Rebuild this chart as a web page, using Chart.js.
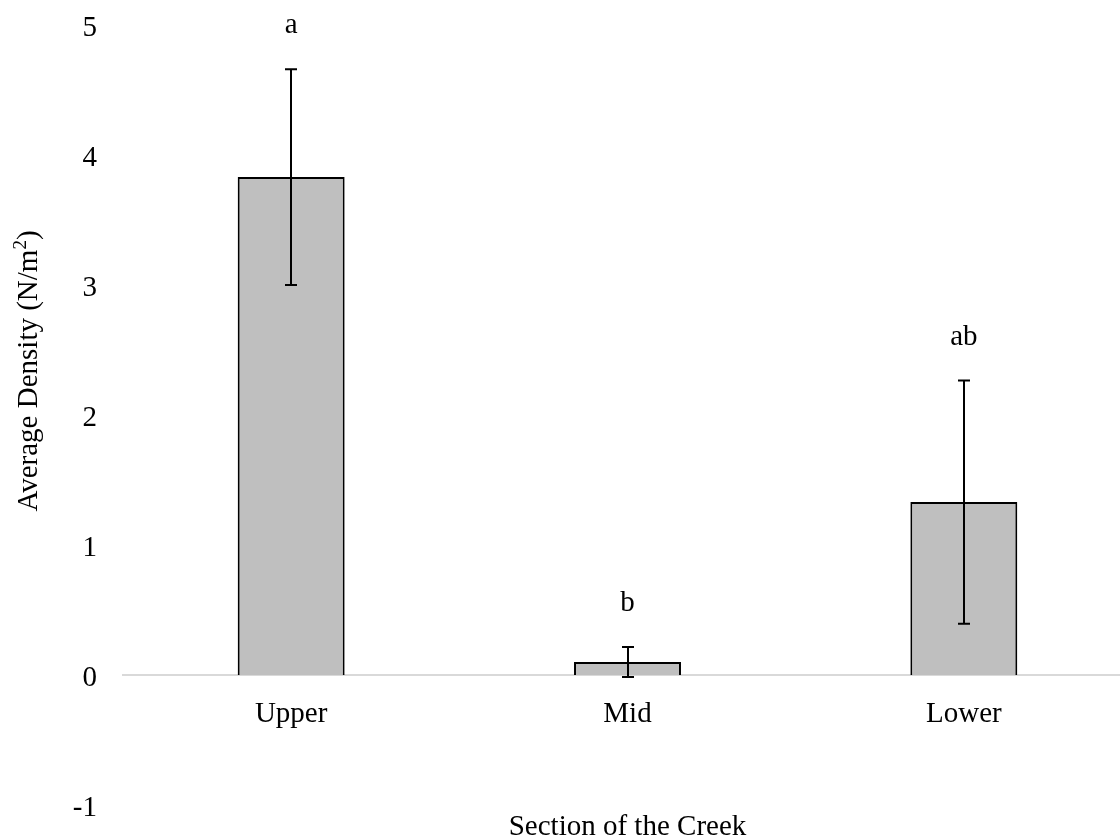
<!DOCTYPE html>
<html>
<head>
<meta charset="utf-8">
<script src="https://cdn.jsdelivr.net/npm/chart.js@4.4.1/dist/chart.umd.min.js"></script>
<style>
  html, body { margin: 0; padding: 0; background: #fff; overflow: hidden; }
  #wrap { position: relative; width: 1132px; height: 840px; }
</style>
</head>
<body>
<div id="wrap"><canvas id="c"></canvas></div>
<script>
const categories = ['Upper', 'Mid', 'Lower'];
const meanDensity = [3.83, 0.10, 1.33];
const errorValues = [0.83, 0.115, 0.935];
const groupLetters = ['a', 'b', 'ab'];
const yTickMin = -1;
const yTickMax = 5;
const xTitle = 'Section of the Creek';
const yTitleMain = 'Average Density (N/m';
const yTitleSup = '2';
const yTitleEnd = ')';

const FONT = '"Liberation Serif", "Times New Roman", serif';
const FS = 29;

const errorBarPlugin = {
  id: 'errorBars',
  afterDatasetsDraw(chart) {
    const ctx = chart.ctx;
    const meta = chart.getDatasetMeta(0);
    const y = chart.scales.y;
    ctx.save();
    ctx.strokeStyle = '#000';
    ctx.lineWidth = 2;
    ctx.fillStyle = '#000';
    ctx.font = FS + 'px ' + FONT;
    ctx.textAlign = 'center';
    ctx.textBaseline = 'alphabetic';
    meta.data.forEach((bar, i) => {
      const x = Math.round(bar.x);
      const top = y.getPixelForValue(meanDensity[i] + errorValues[i]);
      const bot = y.getPixelForValue(meanDensity[i] - errorValues[i]);
      const cap = 6;
      ctx.beginPath();
      ctx.moveTo(x, top); ctx.lineTo(x, bot);
      ctx.moveTo(x - cap, top); ctx.lineTo(x + cap, top);
      ctx.moveTo(x - cap, bot); ctx.lineTo(x + cap, bot);
      ctx.stroke();
      ctx.fillText(groupLetters[i], bar.x, top - 36);
    });
    ctx.restore();
  }
};

const axisTitlePlugin = {
  id: 'axisTitles',
  afterDraw(chart) {
    const ctx = chart.ctx;
    const area = chart.chartArea;
    ctx.save();
    ctx.fillStyle = '#000';
    ctx.font = FS + 'px ' + FONT;
    ctx.textAlign = 'center';
    ctx.textBaseline = 'middle';
    ctx.fillText(xTitle, (area.left + area.right) / 2, 827);
    ctx.translate(29, 371);
    ctx.rotate(-Math.PI / 2);
    const supFont = Math.round(FS * 0.65) + 'px ' + FONT;
    const w1 = ctx.measureText(yTitleMain).width;
    const w3 = ctx.measureText(yTitleEnd).width;
    ctx.font = supFont;
    const w2 = ctx.measureText(yTitleSup).width;
    const total = w1 + w2 + w3;
    const x0 = -total / 2;
    ctx.textAlign = 'left';
    ctx.font = FS + 'px ' + FONT;
    ctx.fillText(yTitleMain, x0, 0);
    ctx.font = supFont;
    ctx.fillText(yTitleSup, x0 + w1, -8);
    ctx.font = FS + 'px ' + FONT;
    ctx.fillText(yTitleEnd, x0 + w1 + w2, 0);
    ctx.restore();
  }
};

new Chart(document.getElementById('c'), {
  type: 'bar',
  data: {
    labels: categories,
    datasets: [{
      data: meanDensity,
      backgroundColor: '#bfbfbf',
      borderColor: '#000',
      borderWidth: 2,
      barPercentage: 0.318,
      categoryPercentage: 1.0
    }]
  },
  options: {
    responsive: true,
    maintainAspectRatio: false,
    animation: false,
    layout: { padding: { top: 25, right: 0, left: 0, bottom: 35 } },
    plugins: {
      legend: { display: false },
      tooltip: { enabled: false },
      title: { display: false }
    },
    scales: {
      x: {
        position: { y: 0 },
        afterFit(scale) { scale.height = 0; scale.paddingLeft = 0; scale.paddingRight = 0; },
        grid: { display: false, drawTicks: false },
        border: { display: true, color: '#d9d9d9', width: 2 },
        ticks: {
          color: '#000',
          padding: 22,
          font: { family: FONT, size: FS }
        }
      },
      y: {
        min: yTickMin,
        max: yTickMax,
        afterFit(scale) { scale.width = 123; scale.paddingTop = 0; scale.paddingBottom = 0; },
        grid: { display: false, drawTicks: false },
        border: { display: false },
        ticks: {
          stepSize: 1,
          color: '#000',
          padding: 26,
          labelOffset: 3,
          font: { family: FONT, size: FS }
        }
      }
    }
  },
  plugins: [errorBarPlugin, axisTitlePlugin]
});
</script>
</body>
</html>
